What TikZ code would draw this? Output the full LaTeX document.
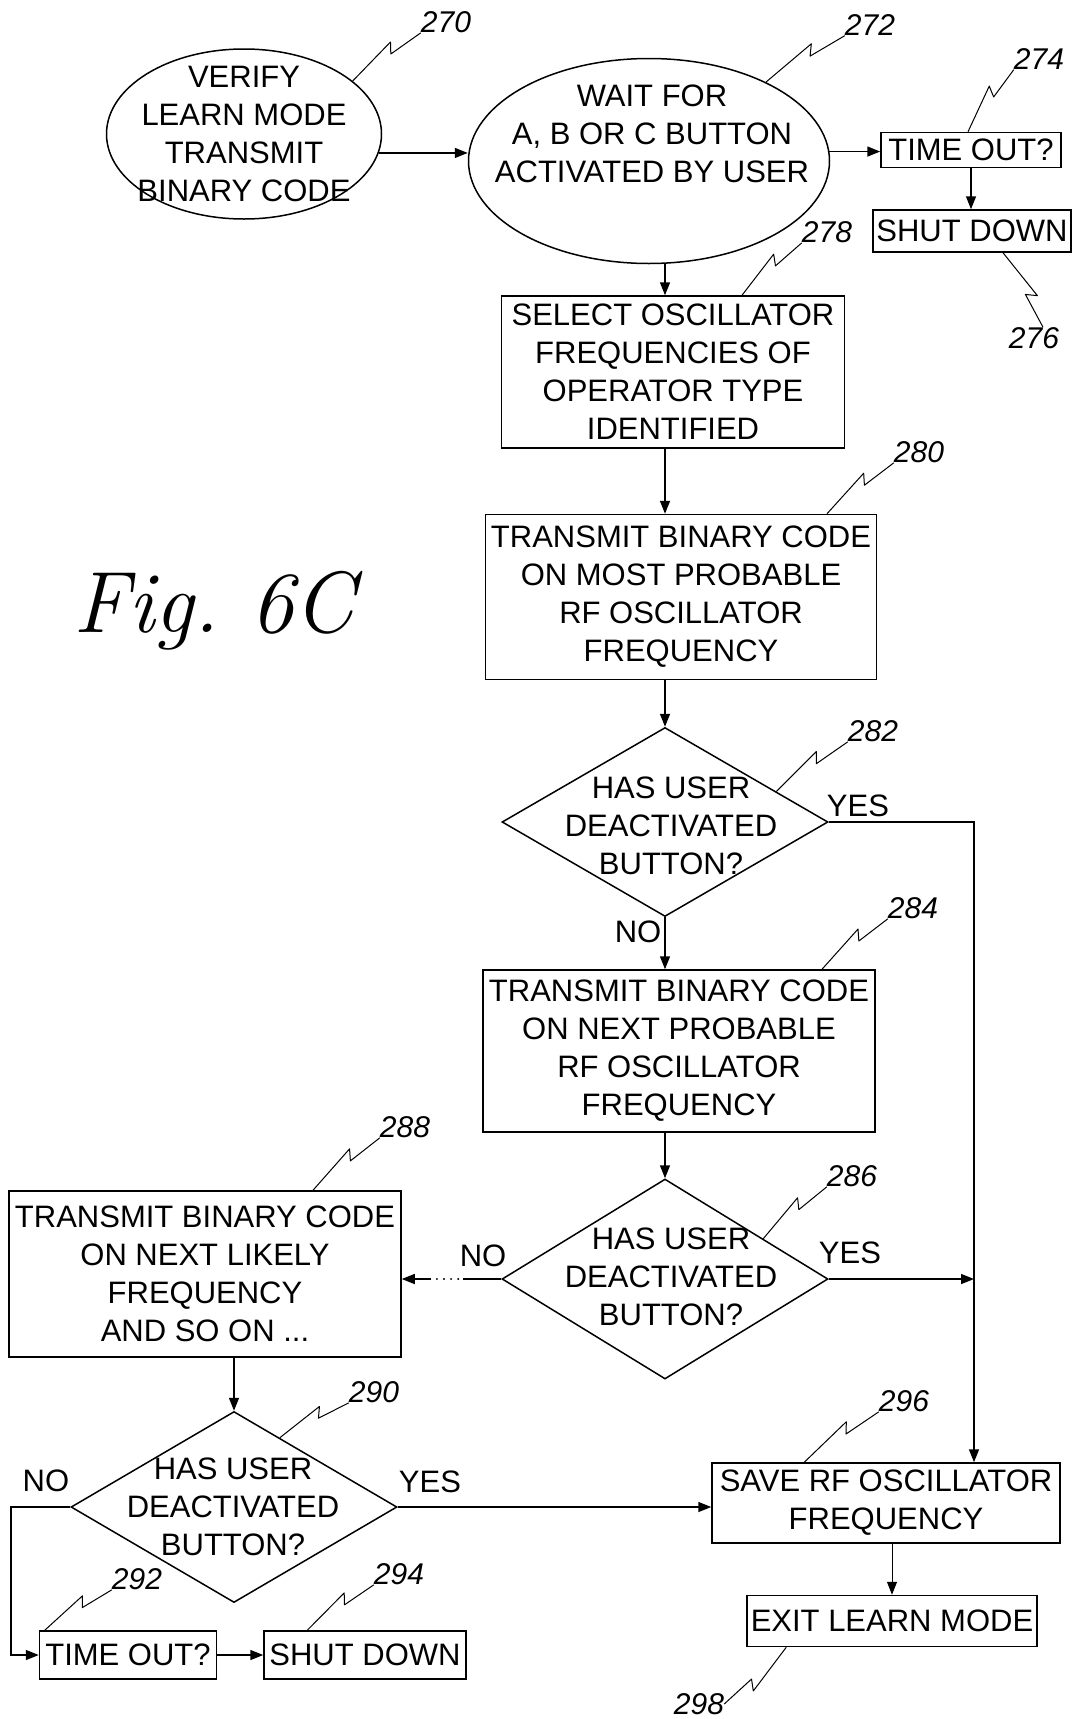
\documentclass[tikz,border=0pt]{standalone}
\usepackage{fontspec}
\setsansfont{Liberation Sans}
\usetikzlibrary{shapes.geometric,arrows.meta,calc}
\newcommand\refleader[2]{%
  \coordinate (la) at (#1);
  \coordinate (lb) at (#2);
  \draw[lead] (la) -- ($(la)!0.64!(lb)!10pt!90:(lb)$) -- ($(la)!0.56!(lb)$) -- (lb);
}
\begin{document}
\begin{tikzpicture}[x=1pt,y=-1pt,
  every node/.style={font=\sffamily\fontsize{31}{38}\selectfont},
  box/.style={draw,line width=1.5pt,rectangle,inner sep=0pt,align=center},
  shp/.style={draw,line width=1.5pt,inner sep=0pt},
  txt/.style={align=center,inner sep=0pt},
  refn/.style={font=\sffamily\itshape\fontsize{30}{36}\selectfont,inner sep=0pt},
  yn/.style={inner sep=0pt},
  arr/.style={line width=1.5pt,-{Triangle[length=13pt,width=10pt]}},
  ln/.style={line width=1.5pt},
  lead/.style={line width=1pt,line join=round},
]
\useasboundingbox (0,0) rectangle (1073,1719);
\coordinate (col) at (665,0);
\coordinate (rail) at (974,0);
\coordinate (lrail) at (11,0);

% shapes
\node[shp,ellipse,minimum width=275pt,minimum height=170pt] (e270) at (244,134) {};
\node[txt] (t270) at (244,134) {VERIFY\\LEARN MODE\\TRANSMIT\\BINARY CODE};
\node[shp,ellipse,minimum width=361pt,minimum height=205pt] (e272) at (649,161) {};
\node[txt] (t272) at (652,134) {WAIT FOR\\A, B OR C BUTTON\\ACTIVATED BY USER};
\node[box,minimum width=180pt,minimum height=35pt] (b274) at (971,150) {TIME OUT?};
\node[box,minimum width=198pt,minimum height=42pt] (b276) at (972,231) {SHUT DOWN};
\node[box,minimum width=343pt,minimum height=152pt] (b278) at (673,372) {SELECT OSCILLATOR\\FREQUENCIES OF\\OPERATOR TYPE\\IDENTIFIED};
\node[box,minimum width=391pt,minimum height=165pt] (b280) at (681,597) {TRANSMIT BINARY CODE\\ON MOST PROBABLE\\RF OSCILLATOR\\FREQUENCY};
\node[shp,diamond,minimum width=326pt,minimum height=189pt] (d282) at (665,822) {};
\node[txt] (t282) at (671,826) {HAS USER\\DEACTIVATED\\BUTTON?};
\node[box,minimum width=392pt,minimum height=162pt] (b284) at (679,1051) {TRANSMIT BINARY CODE\\ON NEXT PROBABLE\\RF OSCILLATOR\\FREQUENCY};
\node[shp,diamond,minimum width=326pt,minimum height=200pt] (d286) at (665,1279) {};
\node[txt] (t286) at (671,1277) {HAS USER\\DEACTIVATED\\BUTTON?};
\node[box,minimum width=392pt,minimum height=166pt] (b288) at (205,1274) {TRANSMIT BINARY CODE\\ON NEXT LIKELY\\FREQUENCY\\AND SO ON ...};
\node[shp,diamond,minimum width=326pt,minimum height=191pt] (d290) at (234,1507) {};
\node[txt] (t290) at (233,1507) {HAS USER\\DEACTIVATED\\BUTTON?};
\node[box,minimum width=177pt,minimum height=48pt] (b292) at (128,1655) {TIME OUT?};
\node[box,minimum width=202pt,minimum height=48pt] (b294) at (365,1655) {SHUT DOWN};
\node[box,minimum width=348pt,minimum height=80pt] (b296) at (886,1503) {SAVE RF OSCILLATOR\\FREQUENCY};
\node[box,minimum width=290pt,minimum height=51pt] (b298) at (892,1621) {EXIT LEARN MODE};

% figure title
\node[font=\itshape\fontsize{87}{100}\selectfont,inner sep=0pt,anchor=base] (fig) at (214,632) {Fig.\ 6C};

% connectors
\draw[arr] (e270.-8) -- (e270.-8 -| e272.west);
\draw[arr] (e272.3) -- (e272.3 -| b274.west);
\draw[arr] (b274.south) -- (b274.south |- b276.north);
\draw[arr] (e272.south -| col) -- (b278.north -| col);
\draw[arr] (b278.south -| col) -- (b280.north -| col);
\draw[arr] (b280.south -| col) -- (d282.north);
\draw[arr] (d282.south) -- (b284.north -| d282.south);
\draw[arr] (d282.east) -- (d282.east -| rail) -- (b296.north -| rail);
\draw[arr] (b284.south -| d286) -- (d286.north);
\draw[arr] (d286.east) -- (d286.east -| rail);
\draw[ln] (d286.west) -- ++(-38,0) coordinate (c1);
\draw[line width=2.2pt,line cap=round,dash pattern=on 0.1pt off 7pt] ([xshift=-5pt]c1) -- ++(-22,0) coordinate (c2);
\draw[arr] ([xshift=-5pt]c2) -- (b288.east |- c2);
\draw[arr] (b288.south -| d290) -- (d290.north);
\draw[arr] (d290.east) -- (d290.east -| b296.west);
\draw[arr] (d290.west) -- (d290.west -| lrail) -- (b292.west -| lrail) -- (b292.west);
\draw[arr] (b292.east) -- (b292.east -| b294.west);
\draw[arr,line width=1pt] (b296.south -| b298) -- (b298.north);

% yes / no labels
\node[yn] (y282) at (858,806) {YES};
\node[yn] (no282) at (638,932) {NO};
\node[yn] (y286) at (850,1253) {YES};
\node[yn] (no286) at (483,1256) {NO};
\node[yn] (y290) at (430,1482) {YES};
\node[yn] (no290) at (46,1481) {NO};

% reference numerals
\node[refn] (n270) at (446,22) {270};
\node[refn] (n272) at (870,25) {272};
\node[refn] (n274) at (1039,59) {274};
\node[refn] (n276) at (1034,338) {276};
\node[refn] (n278) at (827,232) {278};
\node[refn] (n280) at (919,452) {280};
\node[refn] (n282) at (873,731) {282};
\node[refn] (n284) at (913,908) {284};
\node[refn] (n286) at (852,1176) {286};
\node[refn] (n288) at (405,1127) {288};
\node[refn] (n290) at (374,1392) {290};
\node[refn] (n292) at (137,1579) {292};
\node[refn] (n294) at (399,1574) {294};
\node[refn] (n296) at (904,1401) {296};
\node[refn] (n298) at (699,1704) {298};

% leaders
\refleader{e270.26}{n270.south west}
\refleader{e272.34}{n272.south west}
\refleader{[xshift=-3pt]b274.north}{n274.south west}
\refleader{[xshift=31pt]b276.south}{[xshift=9pt]n276.north}
\refleader{[xshift=69pt]b278.north}{n278.south west}
\refleader{[xshift=146pt]b280.north}{n280.south west}
\refleader{$(d282.north)!0.68!(d282.east)$}{n282.south west}
\refleader{[xshift=143pt]b284.north}{n284.south west}
\refleader{$(d286.north)!0.6!(d286.east)$}{n286.south west}
\refleader{[xshift=108pt]b288.north}{n288.south west}
\refleader{$(d290.north)!0.28!(d290.east)$}{n290.south west}
\refleader{[xshift=6pt]b292.north west}{n292.south west}
\refleader{[xshift=44pt]b294.north west}{n294.south west}
\refleader{[xshift=93pt]b296.north west}{n296.south west}
\refleader{[xshift=40pt]b298.south west}{n298.east}
\end{tikzpicture}
\end{document}
